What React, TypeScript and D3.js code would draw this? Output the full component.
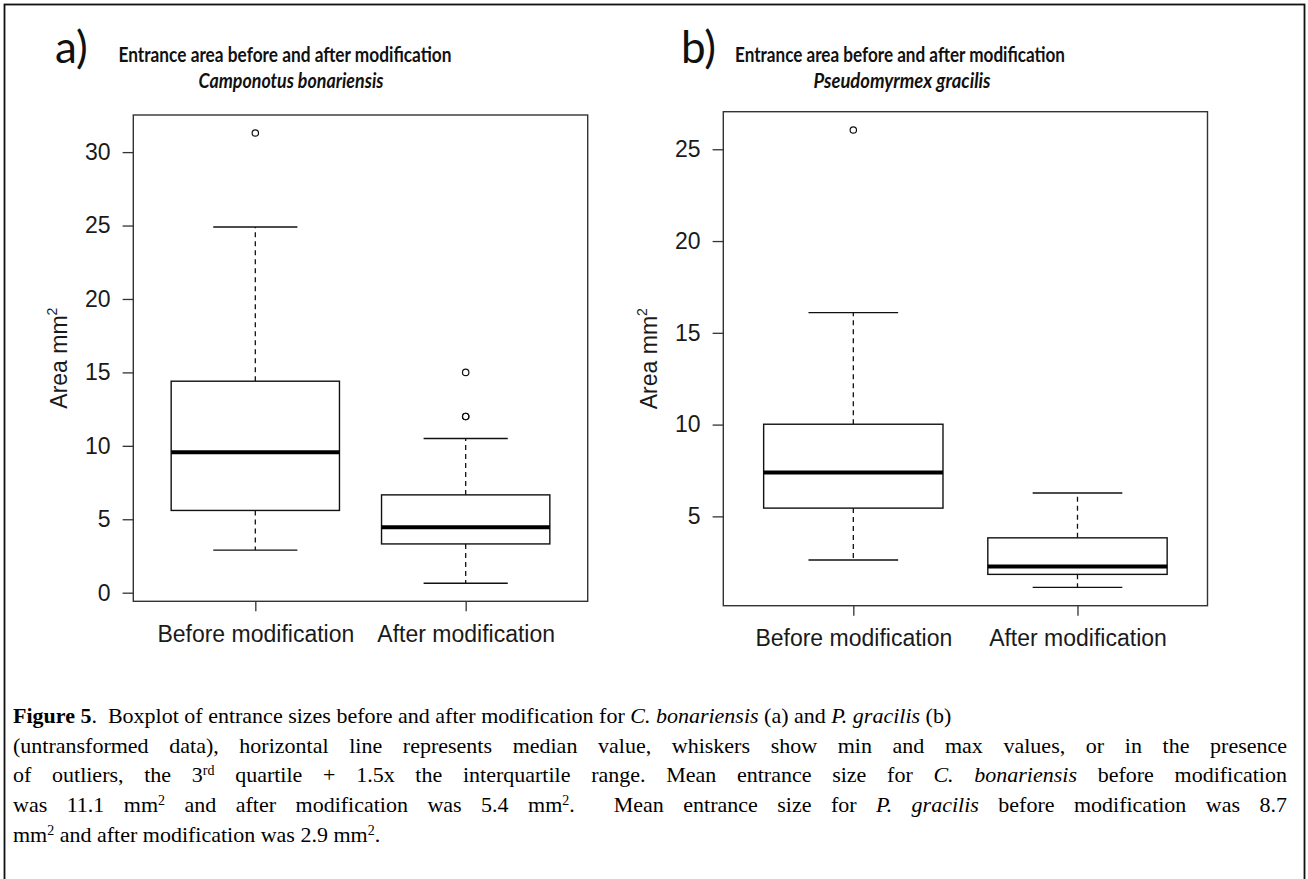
import { useEffect, useRef } from 'react';
import * as d3 from 'd3';

const groups = ['Before modification', 'After modification'];

// a) Camponotus bonariensis
const aWhiskerLow = [2.9, 0.64];
const aQ1 = [5.6, 3.32];
const aMedian = [9.56, 4.46];
const aQ3 = [14.4, 6.66];
const aWhiskerHigh = [24.9, 10.5];
const aOutliers = [[31.3], [15.0, 12.0, 12.0]];
const aTicks = [0, 5, 10, 15, 20, 25, 30];

// b) Pseudomyrmex gracilis
const bWhiskerLow = [2.62, 1.13];
const bQ1 = [5.45, 1.84];
const bMedian = [7.39, 2.27];
const bQ3 = [10.02, 3.83];
const bWhiskerHigh = [16.1, 6.27];
const bOutliers = [[26.05], []];
const bTicks = [5, 10, 15, 20, 25];

type Seg = { t: string; b?: boolean; i?: boolean; sup?: boolean };

const captionLines: Seg[][] = [
  [
    { t: 'Figure 5', b: true },
    { t: '.  Boxplot of entrance sizes before and after modification for ' },
    { t: 'C. bonariensis', i: true },
    { t: ' (a) and ' },
    { t: 'P. gracilis', i: true },
    { t: ' (b)' },
  ],
  [{ t: '(untransformed data), horizontal line represents median value, whiskers show min and max values, or in the presence' }],
  [
    { t: 'of outliers, the 3' },
    { t: 'rd', sup: true },
    { t: ' quartile + 1.5x the interquartile range. Mean entrance size for ' },
    { t: 'C. bonariensis', i: true },
    { t: ' before modification' },
  ],
  [
    { t: 'was 11.1 mm' },
    { t: '2', sup: true },
    { t: ' and after modification was 5.4 mm' },
    { t: '2', sup: true },
    { t: '.  Mean entrance size for ' },
    { t: 'P. gracilis', i: true },
    { t: ' before modification was 8.7' },
  ],
  [
    { t: 'mm' },
    { t: '2', sup: true },
    { t: ' and after modification was 2.9 mm' },
    { t: '2', sup: true },
    { t: '.' },
  ],
];
const justified = [false, true, true, true, false];

const AXIS_FONT = '"Liberation Sans", Arial, sans-serif';
const TITLE_FONT = 'Lato, "Open Sans", sans-serif';
const SERIF = '"Liberation Serif", "Times New Roman", serif';

const App = () => {
  const svgRef = useRef(null);

  useEffect(() => {
    const svg = d3.select(svgRef.current);
    svg.selectAll('*').remove();

    svg.append('rect')
      .attr('width', 1308).attr('height', 879).attr('fill', '#fff');

    // figure border
    svg.append('rect')
      .attr('x', 4.5).attr('y', 4.5)
      .attr('width', 1300).attr('height', 880)
      .attr('fill', 'none').attr('stroke', '#111').attr('stroke-width', 1.8);

    const panels = [
      {
        left: 133.3, right: 587.7, top: 115, bottom: 601.3, labelX: 67,
        lo: aWhiskerLow, q1: aQ1, med: aMedian, q3: aQ3, hi: aWhiskerHigh, out: aOutliers, ticks: aTicks,
        tag: 'a)', tagX: 55, t1: 'Entrance area before and after modification', t1x: 285, t1w: 333,
        t2: 'Camponotus bonariensis', t2x: 291, t2w: 185,
      },
      {
        left: 723.3, right: 1207.5, top: 111.7, bottom: 605.7, labelX: 657,
        lo: bWhiskerLow, q1: bQ1, med: bMedian, q3: bQ3, hi: bWhiskerHigh, out: bOutliers, ticks: bTicks,
        tag: 'b)', tagX: 681, t1: 'Entrance area before and after modification', t1x: 900, t1w: 330,
        t2: 'Pseudomyrmex gracilis', t2x: 902, t2w: 177,
      },
    ];

    panels.forEach(p => {
      const allVals = [...p.lo, ...p.hi, ...p.out.flat()];
      const [mn, mx] = d3.extent(allVals) as [number, number];
      const padY = (mx - mn) * 0.04;
      const y = d3.scaleLinear().domain([mn - padY, mx + padY]).range([p.bottom, p.top]);
      const x = d3.scaleLinear().domain([0.5 - 0.08, groups.length + 0.5 + 0.08]).range([p.left, p.right]);
      const boxHalf = 0.4;
      const stapleHalf = 0.2;

      const g = svg.append('g');

      groups.forEach((_, k) => {
        const c = k + 1;
        // whiskers
        g.append('line')
          .attr('x1', x(c)).attr('x2', x(c))
          .attr('y1', y(p.q3[k])).attr('y2', y(p.hi[k]))
          .attr('stroke', '#111').attr('stroke-width', 1.3).attr('stroke-dasharray', '5,4');
        g.append('line')
          .attr('x1', x(c)).attr('x2', x(c))
          .attr('y1', y(p.q1[k])).attr('y2', y(p.lo[k]))
          .attr('stroke', '#111').attr('stroke-width', 1.3).attr('stroke-dasharray', '5,4');
        // staples
        [p.hi[k], p.lo[k]].forEach(v => {
          g.append('line')
            .attr('x1', x(c - stapleHalf)).attr('x2', x(c + stapleHalf))
            .attr('y1', y(v)).attr('y2', y(v))
            .attr('stroke', '#111').attr('stroke-width', 1.4);
        });
        // box
        g.append('rect')
          .attr('x', x(c - boxHalf)).attr('y', y(p.q3[k]))
          .attr('width', x(c + boxHalf) - x(c - boxHalf))
          .attr('height', y(p.q1[k]) - y(p.q3[k]))
          .attr('fill', '#fff').attr('stroke', '#111').attr('stroke-width', 1.4);
        // median
        g.append('line')
          .attr('x1', x(c - boxHalf)).attr('x2', x(c + boxHalf))
          .attr('y1', y(p.med[k])).attr('y2', y(p.med[k]))
          .attr('stroke', '#000').attr('stroke-width', 4);
        // outliers
        g.selectAll(null)
          .data(p.out[k])
          .enter()
          .append('circle')
          .attr('cx', x(c)).attr('cy', d => y(d))
          .attr('r', 3.2)
          .attr('fill', 'none').attr('stroke', '#111').attr('stroke-width', 1.2);
      });

      // frame
      g.append('rect')
        .attr('x', p.left).attr('y', p.top)
        .attr('width', p.right - p.left).attr('height', p.bottom - p.top)
        .attr('fill', 'none').attr('stroke', '#333').attr('stroke-width', 1.4);

      // y axis
      const ya = g.append('g')
        .attr('transform', `translate(${p.left},0)`)
        .call(d3.axisLeft(y).tickValues(p.ticks).tickSize(10.7).tickPadding(12).tickSizeOuter(0));
      ya.select('.domain').remove();
      ya.selectAll('line').attr('stroke', '#333').attr('stroke-width', 1.3);
      ya.selectAll('text')
        .attr('font-family', AXIS_FONT).attr('font-size', 23).attr('fill', '#1a1a1a');

      // x axis
      const xa = g.append('g')
        .attr('transform', `translate(0,${p.bottom})`)
        .call(d3.axisBottom(x).tickValues(groups.map((_, i) => i + 1))
          .tickFormat((d: any) => groups[d - 1]).tickSize(10).tickPadding(14).tickSizeOuter(0));
      xa.select('.domain').remove();
      xa.selectAll('line').attr('stroke', '#333').attr('stroke-width', 1.3);
      xa.selectAll('text')
        .attr('font-family', AXIS_FONT).attr('font-size', 23).attr('fill', '#1a1a1a');

      // y label
      const yl = g.append('text')
        .attr('transform', `translate(${p.labelX},${(p.top + p.bottom) / 2}) rotate(-90)`)
        .attr('text-anchor', 'middle')
        .attr('font-family', AXIS_FONT).attr('font-size', 23).attr('fill', '#1a1a1a');
      yl.append('tspan').text('Area mm');
      yl.append('tspan').attr('font-size', 14).attr('baseline-shift', '70%').text('2');

      // panel tag and titles
      svg.append('text')
        .attr('x', p.tagX).attr('y', 63)
        .attr('font-family', TITLE_FONT).attr('font-size', 44).attr('fill', '#111')
        .text(p.tag);
      svg.append('text')
        .attr('x', p.t1x).attr('y', 62)
        .attr('text-anchor', 'middle')
        .attr('font-family', TITLE_FONT).attr('font-weight', 'bold').attr('font-size', 20)
        .attr('textLength', p.t1w).attr('lengthAdjust', 'spacingAndGlyphs')
        .attr('fill', '#111')
        .text(p.t1);
      svg.append('text')
        .attr('x', p.t2x).attr('y', 88)
        .attr('text-anchor', 'middle')
        .attr('font-family', TITLE_FONT).attr('font-weight', 'bold').attr('font-style', 'italic')
        .attr('font-size', 20)
        .attr('textLength', p.t2w).attr('lengthAdjust', 'spacingAndGlyphs')
        .attr('fill', '#111')
        .text(p.t2);
    });

    // caption
    const capX = 13;
    const capRight = 1287;
    captionLines.forEach((segs, li) => {
      const t = svg.append('text')
        .attr('x', capX).attr('y', 723 + li * 29.7)
        .attr('font-family', SERIF).attr('font-size', 22).attr('fill', '#000')
        .style('white-space', 'pre');
      segs.forEach(s => {
        const ts = t.append('tspan').text(s.t);
        if (s.b) ts.attr('font-weight', 'bold');
        if (s.i) ts.attr('font-style', 'italic');
        if (s.sup) ts.attr('font-size', 14).attr('baseline-shift', 'super');
      });
      if (justified[li]) {
        const node = t.node() as SVGTextElement;
        const len = node.getComputedTextLength();
        const spaces = segs.map(s => s.t).join('').split(' ').length - 1;
        const extra = (capRight - capX - len) / spaces;
        t.attr('word-spacing', extra);
      }
    });
  }, []);

  return (
    <svg ref={svgRef} width={1308} height={879}
      style={{ position: 'absolute', left: 0, top: 0, display: 'block' }} />
  );
};

export default App;
